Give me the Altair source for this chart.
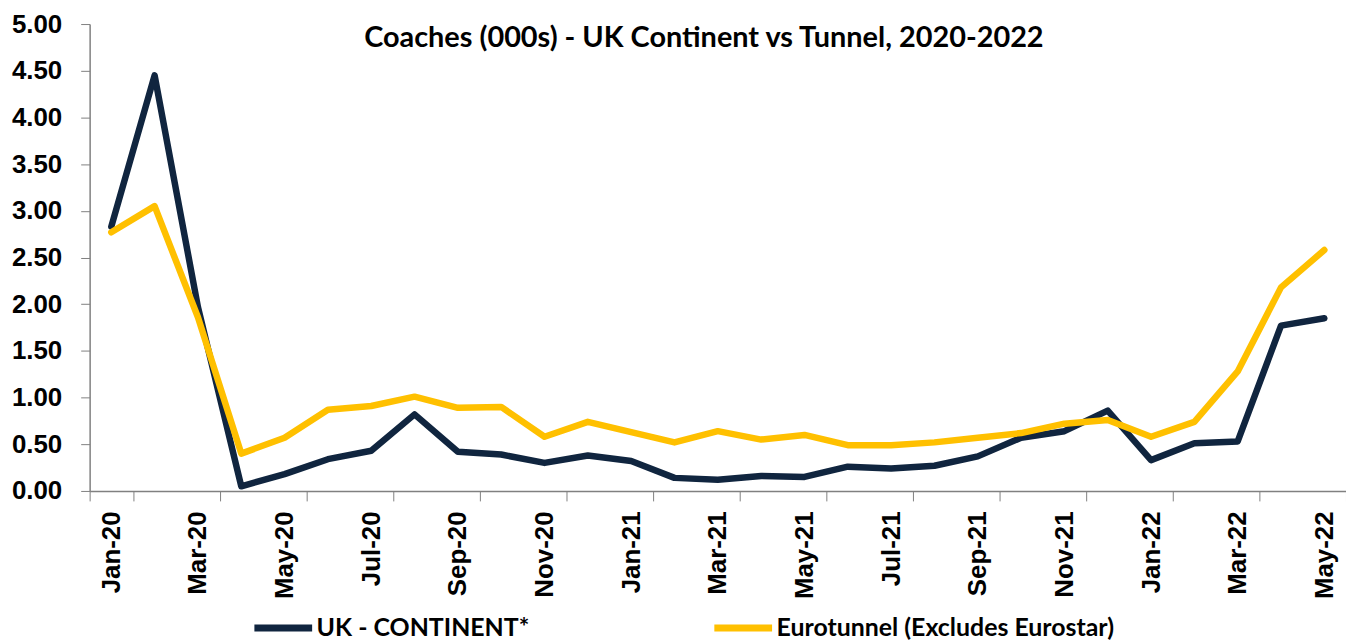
import altair as alt
import pandas as pd

months = ["Jan-20", "Feb-20", "Mar-20", "Apr-20", "May-20", "Jun-20", "Jul-20", "Aug-20",
          "Sep-20", "Oct-20", "Nov-20", "Dec-20", "Jan-21", "Feb-21", "Mar-21", "Apr-21",
          "May-21", "Jun-21", "Jul-21", "Aug-21", "Sep-21", "Oct-21", "Nov-21", "Dec-21",
          "Jan-22", "Feb-22", "Mar-22", "Apr-22", "May-22"]

uk_continent = [2.83, 4.45, 1.97, 0.05, 0.18, 0.34, 0.43, 0.82, 0.42, 0.39, 0.30, 0.38,
                0.32, 0.14, 0.12, 0.16, 0.15, 0.26, 0.24, 0.27, 0.37, 0.57, 0.64, 0.86,
                0.33, 0.51, 0.53, 1.77, 1.85]

eurotunnel = [2.77, 3.05, 1.86, 0.40, 0.57, 0.87, 0.91, 1.01, 0.89, 0.90, 0.58, 0.74,
              0.63, 0.52, 0.64, 0.55, 0.60, 0.49, 0.49, 0.52, 0.57, 0.62, 0.72, 0.76,
              0.58, 0.74, 1.28, 2.18, 2.58]

series_names = ["UK - CONTINENT*", "Eurotunnel (Excludes Eurostar)"]
series_colors = ["#10253F", "#FFC000"]
y_ticks = [0.0, 0.5, 1.0, 1.5, 2.0, 2.5, 3.0, 3.5, 4.0, 4.5, 5.0]
x_label_months = months[::2]
title_text = "Coaches (000s) - UK Continent vs Tunnel, 2020-2022"

rows = []
for name, vals in zip(series_names, [uk_continent, eurotunnel]):
    for i, (m, v) in enumerate(zip(months, vals)):
        rows.append({"month": m, "idx": i, "series": name, "value": v})
df = pd.DataFrame(rows)

W = 1262
H = 469

lines = alt.Chart(df).mark_line(strokeWidth=6.5, strokeJoin="round", strokeCap="round").encode(
    x=alt.X("month:O", sort=months, title=None,
            scale=alt.Scale(type="band", paddingInner=0, paddingOuter=0),
            bandPosition=0.5,
            axis=alt.Axis(values=x_label_months, tickBand="extent", labelAngle=-90,
                          labelAlign="right", labelBaseline="middle",
                          labelFont="Liberation Sans", labelFontWeight="bold", labelFontSize=26,
                          labelColor="#000000", labelPadding=10, tickSize=10,
                          tickColor="#808080", domainColor="#808080", domainWidth=1.5,
                          labelOverlap=False, labelBound=False, labelFlush=False)),
    y=alt.Y("value:Q", title=None,
            scale=alt.Scale(domain=[0, 5], nice=False, zero=True),
            axis=alt.Axis(values=y_ticks, format=".2f", grid=False,
                          labelFont="Liberation Sans", labelFontWeight="bold", labelFontSize=26,
                          labelColor="#000000", labelPadding=19, tickSize=9,
                          tickColor="#808080", domainColor="#808080", domainWidth=1.5,
                          labelOverlap=False)),
    color=alt.Color("series:N",
                    scale=alt.Scale(domain=series_names, range=series_colors),
                    legend=alt.Legend(title=None, orient="none", legendX=162, legendY=574,
                                      direction="horizontal", columns=2,
                                      symbolType="stroke", symbolSize=3364,
                                      symbolStrokeWidth=7, labelOffset=1,
                                      labelFont="Lato", labelFontWeight="bold",
                                      labelFontSize=25, labelColor="#000000",
                                      columnPadding=171, labelLimit=600)),
    detail="series:N",
)

title_df = pd.DataFrame({"t": [title_text]})
title = alt.Chart(title_df).mark_text(
    font="Lato", fontWeight="bold", fontSize=29, color="#000000",
    align="center", baseline="middle"
).encode(x=alt.value(617), y=alt.value(14), text="t:N")

chart = alt.layer(lines, title).properties(
    width=W, height=H,
    autosize=alt.AutoSizeParams(type="none"),
    padding={"left": 82, "top": 14.7, "right": 0, "bottom": 149},
    background="#ffffff",
).configure_view(stroke=None)

chart.save("out.html", embed_options={"renderer": "svg", "actions": False})
